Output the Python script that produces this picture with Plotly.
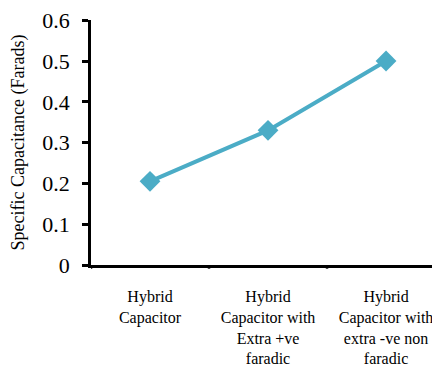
import plotly.graph_objects as go

categories = ["Hybrid<br>Capacitor",
              "Hybrid<br>Capacitor with<br>Extra +ve<br>faradic",
              "Hybrid<br>Capacitor with<br>extra -ve non<br>faradic"]
values = [0.205, 0.33, 0.5]
y_ticks = [0, 0.1, 0.2, 0.3, 0.4, 0.5, 0.6]
y_tick_labels = ["0", "0.1", "0.2", "0.3", "0.4", "0.5", "0.6"]

serif = "Liberation Serif, Times New Roman, serif"

fig = go.Figure()
fig.add_trace(go.Scatter(
    x=[0, 1, 2], y=values, mode="lines+markers",
    line=dict(color="#4BACC6", width=4),
    marker=dict(symbol="diamond", size=16, color="#4BACC6"),
    showlegend=False, cliponaxis=False,
))

# page body has an 8px margin, so the figure is offset by 8px
fig.update_layout(
    width=440, height=389,
    margin=dict(l=83, r=0, t=12, b=132),
    plot_bgcolor="white", paper_bgcolor="white",
    xaxis=dict(
        range=[-0.5, 2.525], tickmode="array", tickvals=[0, 1, 2],
        ticktext=categories, tickangle=0, automargin=False,
        showline=True, linecolor="black", linewidth=2.5,
        showgrid=False, zeroline=False,
        ticks="", ticklabelstandoff=15,
        tickfont=dict(family=serif, size=16, color="black"),
    ),
    yaxis=dict(
        range=[0, 0.6005], tickmode="array", tickvals=y_ticks, ticktext=y_tick_labels,
        automargin=False, ticklabeloverflow="allow",
        showline=True, linecolor="black", linewidth=2.5,
        showgrid=False, zeroline=False,
        ticks="outside", ticklen=6, tickwidth=2.5, tickcolor="black",
        ticklabelstandoff=8,
        tickfont=dict(family=serif, size=22, color="black"),
        title=dict(text="Specific Capacitance (Farads)",
                   font=dict(family=serif, size=18, color="black"), standoff=14),
    ),
)

# boundary ticks on x axis
for xb in [-0.5, 0.5, 1.5]:
    fig.add_shape(type="line", xref="x", yref="paper", x0=xb, x1=xb, y0=0, y1=-0.015,
                  line=dict(color="black", width=2.5))

fig.write_html("out.html")
